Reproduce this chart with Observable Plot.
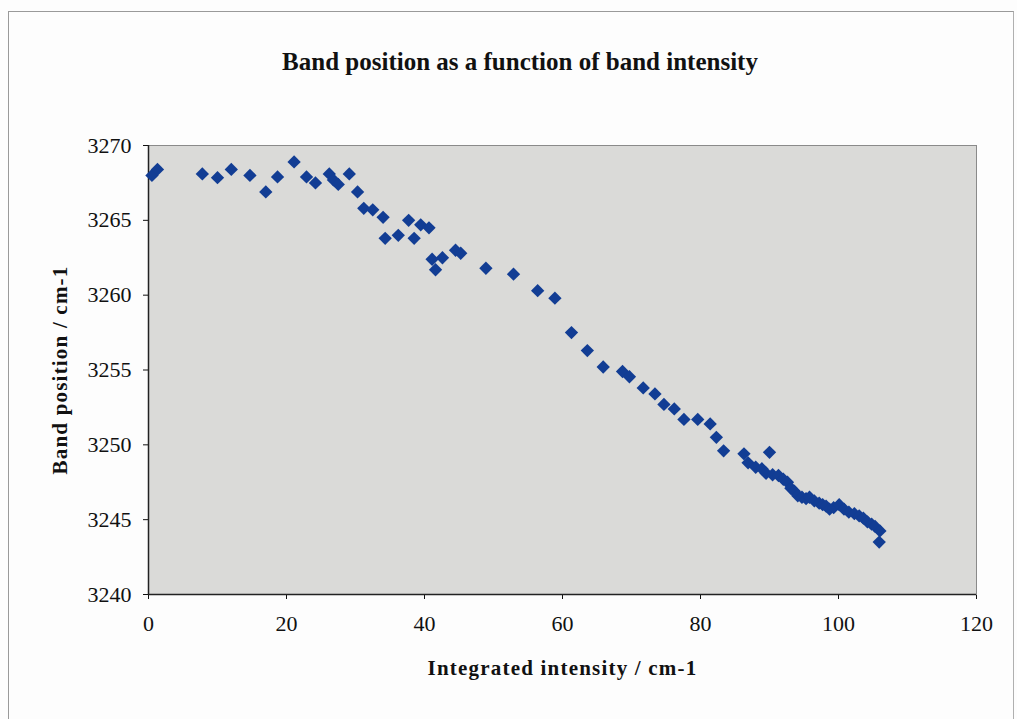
<!DOCTYPE html>
<html>
<head>
<meta charset="utf-8">
<script src="https://cdn.jsdelivr.net/npm/d3@7"></script>
<script src="https://cdn.jsdelivr.net/npm/@observablehq/plot@0.6"></script>
<style>
  html, body { margin: 0; padding: 0; background: #fdfdfd; }
  #wrap { position: relative; width: 1017px; height: 719px; overflow: hidden; }
  #border { position: absolute; left: 8px; top: 11px; width: 1004px; height: 720px;
            border-left: 1px solid #9a9a9a; border-top: 1px solid #9a9a9a; border-right: 1px solid #b0b0b0; }
  #title { position: absolute; left: 0; width: 1040px; top: 48px; text-align: center;
           font-family: "Liberation Serif", "Times New Roman", serif; font-weight: bold; font-size: 25px;
           letter-spacing: 0px; color: #111; }
  #chart { position: absolute; left: 0; top: 0; }
  #chart svg g[aria-label="x-axis label"] text,
  #chart svg g[aria-label="y-axis label"] text { font-weight: bold; font-size: 21px; letter-spacing: 1.2px; }
</style>
</head>
<body>
<div id="wrap">
  <div id="border"></div>
  <div id="title">Band position as a function of band intensity</div>
  <div id="chart"></div>
</div>
<script>
const intensity = [0.5, 1.3, 7.8, 10.0, 12.0, 14.7, 17.0, 18.7, 21.1, 22.9, 24.2, 26.2, 26.8, 27.5, 29.1, 30.3, 31.2, 32.5, 34.0, 34.3,
  36.2, 37.7, 38.5, 39.45, 40.65, 41.1, 41.6, 42.6, 44.5, 45.25, 48.9, 52.9, 56.4, 58.9, 61.3, 63.6, 65.9, 68.7, 69.7, 71.7,
  73.4, 74.7, 76.2, 77.6, 79.6, 81.4, 82.3, 83.35, 86.3, 86.9, 88.0, 88.9, 89.5, 90.0, 90.45, 91.3, 92.0, 92.6, 93.1, 93.6,
  94.1, 94.7, 95.3, 95.8, 96.5, 97.2, 97.7, 98.2, 98.7, 99.3, 100.1, 100.8, 101.5, 102.3, 103.0, 103.6, 104.2, 104.8, 105.3, 106.0, 105.9];
const position = [3268.0, 3268.4, 3268.1, 3267.85, 3268.4, 3268.0, 3266.9, 3267.9, 3268.9, 3267.9, 3267.5, 3268.1, 3267.7, 3267.4, 3268.1, 3266.9, 3265.8, 3265.7, 3265.2, 3263.8,
  3264.0, 3265.0, 3263.8, 3264.7, 3264.5, 3262.4, 3261.7, 3262.5, 3263.0, 3262.8, 3261.8, 3261.4, 3260.3, 3259.8, 3257.5, 3256.3, 3255.2, 3254.9, 3254.55, 3253.8,
  3253.4, 3252.7, 3252.4, 3251.7, 3251.7, 3251.4, 3250.5, 3249.6, 3249.4, 3248.8, 3248.5, 3248.4, 3248.1, 3249.5, 3248.0, 3247.95, 3247.7, 3247.5, 3247.1, 3246.9,
  3246.6, 3246.5, 3246.4, 3246.5, 3246.25, 3246.1, 3246.0, 3245.9, 3245.7, 3245.8, 3246.0, 3245.7, 3245.5, 3245.4, 3245.25, 3245.1, 3244.85, 3244.7, 3244.55, 3244.25, 3243.5];
const xTicks = [0, 20, 40, 60, 80, 100, 120];
const yTicks = [3240, 3245, 3250, 3255, 3260, 3265, 3270];
const xLabel = "Integrated intensity / cm-1";
const yLabel = "Band position / cm-1";

const data = intensity.map((v, i) => ({x: v, y: position[i]}));

const chart = Plot.plot({
  width: 1017,
  height: 719,
  marginLeft: 148,
  marginRight: 41,
  marginTop: 145,
  marginBottom: 125,
  style: {fontFamily: "'Liberation Serif', 'Times New Roman', serif", fontSize: "22px", background: "transparent", color: "#111", overflow: "visible"},
  x: {domain: [0, 120], ticks: xTicks, tickFormat: "d", label: xLabel, labelAnchor: "center", labelOffset: 80, tickSize: 5, tickPadding: 16, labelArrow: "none"},
  y: {domain: [3240, 3270], ticks: yTicks, tickFormat: "d", label: yLabel, labelAnchor: "center", labelOffset: 96, tickSize: 5, tickPadding: 12, labelArrow: "none"},
  marks: [
    Plot.frame({fill: "#dadad8", stroke: "#8a8a8a", strokeWidth: 1}),
    Plot.ruleX([0], {stroke: "#222", strokeWidth: 1.5}),
    Plot.ruleY([3240], {stroke: "#222", strokeWidth: 1.5}),
    Plot.dot(data, {x: "x", y: "y", symbol: "diamond2", r: 6, fill: "#123d94", stroke: "none"})
  ]
});
document.getElementById("chart").appendChild(chart);
</script>
</body>
</html>
